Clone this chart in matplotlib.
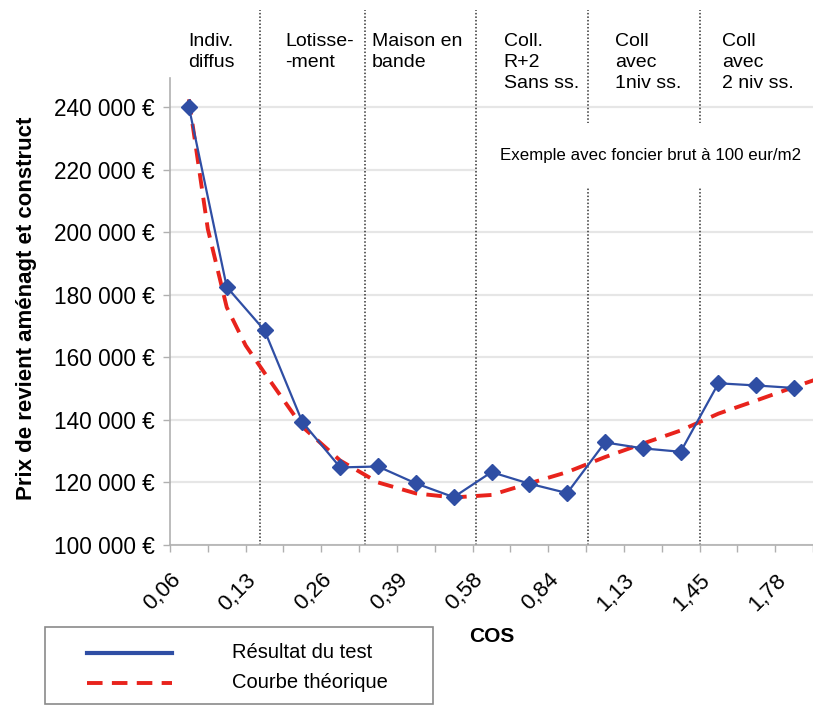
import matplotlib
matplotlib.use("Agg")
import matplotlib.pyplot as plt
import matplotlib.transforms as mtransforms
from matplotlib.patches import Rectangle
from matplotlib.lines import Line2D

plt.rcParams['font.family'] = ['Liberation Sans', 'DejaVu Sans']

# valeurs
cos_labels = ['0,06', '0,13', '0,26', '0,39', '0,58', '0,84', '1,13', '1,45', '1,78']
resultat_test = [240000, 182500, 168600, 139300, 124800, 125100, 119700, 115300, 123300,
                 119600, 116600, 132800, 130900, 129800, 151700, 151000, 150200]
courbe_x = [0, 0.5, 1, 1.5, 2, 3, 4, 5, 6, 7, 8, 9, 10, 11, 12, 13, 14, 15, 16, 17]
courbe_theorique = [242500, 201000, 176000, 163800, 155000, 137800, 127000, 120000, 116500,
                    115200, 116000, 119700, 123300, 128100, 132400, 136600, 142000, 146200,
                    150500, 154700]
y_ticks = [100000, 120000, 140000, 160000, 180000, 200000, 220000, 240000]
y_labels = ['100 000 €', '120 000 €', '140 000 €', '160 000 €', '180 000 €',
            '200 000 €', '220 000 €', '240 000 €']
zones = ['Indiv.\ndiffus', 'Lotisse-\n-ment', 'Maison en\nbande',
         'Coll.\nR+2\nSans ss.', 'Coll\navec\n1niv ss.', 'Coll\navec\n2 niv ss.']
zone_limites = [1.89, 4.65, 7.59, 10.55, 13.52]

zone_text_x = [-0.02, 2.55, 4.83, 8.32, 11.26, 14.1]

blue = '#2f4ea4'
red = '#e8231c'

fig = plt.figure(figsize=(8.13, 7.06), dpi=100)
ax = fig.add_axes([170 / 813, 161 / 706, 643 / 813, 467 / 706])

x = list(range(len(resultat_test)))
ax.plot(courbe_x, courbe_theorique, color=red, lw=2.8, dashes=(4, 2.4), zorder=4)
ax.plot(x, resultat_test, color=blue, lw=1.6, marker='D', ms=8, zorder=5)

ax.set_xlim(-0.5, 16.4)
ax.set_ylim(100000, 249300)

# axes
ax.set_yticks(y_ticks)
ax.set_yticklabels(y_labels, fontsize=16.3)
ax.set_xticks(x[::2])
ax.set_xticklabels(cos_labels, fontsize=16, rotation=45, ha='right', va='top',
                   rotation_mode='anchor')
ax.set_xticks([i - 0.5 for i in range(18)], minor=True)
ax.tick_params(axis='x', which='major', length=0, pad=14)
ax.tick_params(axis='x', which='minor', length=5, color='#b0b0b0', width=1)
ax.tick_params(axis='y', length=5, color='#b0b0b0', width=1, pad=6)
shift = mtransforms.ScaledTranslation(-0.19, -0.05, fig.dpi_scale_trans)
for lab in ax.get_xticklabels():
    lab.set_transform(lab.get_transform() + shift)
for s in ['top', 'right']:
    ax.spines[s].set_visible(False)
for s in ['left', 'bottom']:
    ax.spines[s].set_color('#b0b0b0')
    ax.spines[s].set_linewidth(1.2)
ax.grid(axis='y', color='#e6e6e6', lw=1.6, zorder=0)
ax.set_axisbelow(True)

# separations entre types
for xv in zone_limites:
    ax.plot([xv, xv], [0, 1.146], transform=ax.get_xaxis_transform(), color='#333333',
            lw=1.1, linestyle=(0, (1, 1.3)), clip_on=False, zorder=2)

for lab, xv in zip(zones, zone_text_x):
    ax.text(xv, 1.096, lab, transform=ax.get_xaxis_transform(), fontsize=14,
            va='top', ha='left', linespacing=1.3)

ax.add_patch(Rectangle((0.478, 0.767), 0.53, 0.137, transform=ax.transAxes,
                       facecolor='white', edgecolor='none', zorder=3, clip_on=False))
ax.text(0.748, 0.835, 'Exemple avec foncier brut à 100 eur/m2', transform=ax.transAxes,
        fontsize=12.2, ha='center', va='center', zorder=3.5)

fig.text(27 / 813, 1 - 308 / 706, 'Prix de revient aménagt et construct', rotation=90,
         fontsize=16, fontweight='bold', ha='center', va='center')
fig.text(492 / 813, 1 - 637 / 706, 'COS', fontsize=15, fontweight='bold',
         ha='center', va='center')

# legende
fig.patches.append(Rectangle((45 / 813, 2 / 706), 388 / 813, 77 / 706,
                             transform=fig.transFigure, facecolor='white',
                             edgecolor='#8a8a8a', lw=1.2))
fig.lines.append(Line2D([87 / 813, 172 / 813], [1 - 653 / 706] * 2, transform=fig.transFigure,
                        color=blue, lw=3))
fig.lines.append(Line2D([87 / 813, 172 / 813], [1 - 683 / 706] * 2, transform=fig.transFigure,
                        color=red, lw=2.8, dashes=(4, 2.4)))
fig.text(232 / 813, 1 - 653 / 706, 'Résultat du test', fontsize=14.5, va='center')
fig.text(232 / 813, 1 - 683 / 706, 'Courbe théorique', fontsize=14.5, va='center')

fig.savefig('out.png', dpi=100)
